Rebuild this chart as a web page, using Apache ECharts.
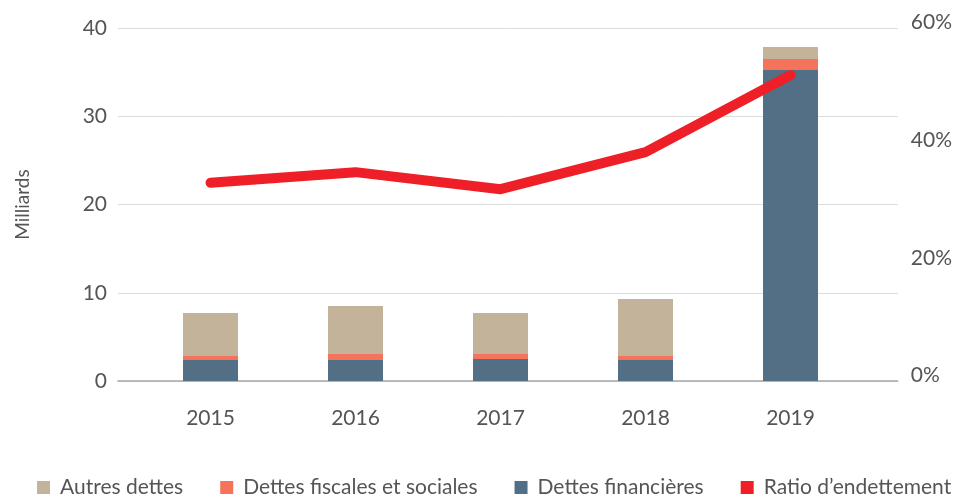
<!DOCTYPE html>
<html>
<head>
<meta charset="utf-8">
<script src="https://cdn.jsdelivr.net/npm/echarts@6/dist/echarts.min.js"></script>
<style>
  html, body { margin: 0; padding: 0; background: #fff; }
  #chart { width: 955px; height: 498px; }
</style>
</head>
<body>
<div id="chart"></div>
<script>
var years = ["2015", "2016", "2017", "2018", "2019"];
// Milliards
var autresDettes = [4.87, 5.44, 4.64, 6.46, 1.36];
var dettesFiscales = [0.45, 0.68, 0.57, 0.45, 1.25];
var dettesFinancieres = [2.38, 2.38, 2.49, 2.38, 35.24];
// ratio d'endettement (part)
var ratio = [0.337, 0.355, 0.326, 0.389, 0.52];

var leftTicks = [0, 40, 10];
var rightTicks = [0, 0.6, 0.2];

var textColor = "#555";
var font = "Lato";

var chart = echarts.init(document.getElementById("chart"));

var option = {
    animation: false,
    textStyle: { fontFamily: font },
    // grille 0 : lignes de fond + axes ; grille 1 : les données
    grid: [
        { left: 118, right: 57, top: 28, bottom: 117 },
        { left: 138, right: 92, top: 28, bottom: 117 }
    ],
    legend: {
        left: 37,
        bottom: 0,
        padding: 0,
        icon: "rect",
        itemWidth: 13,
        itemHeight: 13,
        itemGap: 37,
        textStyle: { color: textColor, fontSize: 21, fontFamily: font, padding: [0, 0, 0, 5] },
        data: ["Autres dettes", "Dettes fiscales et sociales", "Dettes financières", "Ratio d’endettement"]
    },
    xAxis: [{
        gridIndex: 0,
        type: "value",
        min: 0,
        max: 1,
        axisLine: { show: true, onZero: false, lineStyle: { color: "#a6a6a6", width: 1.5 } },
        axisTick: { show: false },
        axisLabel: { show: false },
        splitLine: { show: false }
    }, {
        gridIndex: 1,
        type: "category",
        data: years,
        axisLine: { show: false },
        axisTick: { show: false },
        axisLabel: { color: textColor, fontSize: 21, margin: 27 }
    }],
    yAxis: [{
        gridIndex: 0,
        type: "value",
        position: "left",
        min: leftTicks[0],
        max: leftTicks[1],
        interval: leftTicks[2],
        name: "Milliards",
        nameLocation: "middle",
        nameGap: 86,
        nameTextStyle: { color: textColor, fontSize: 19 },
        axisLine: { show: false },
        axisTick: { show: false },
        axisLabel: { color: textColor, fontSize: 21, margin: 11 },
        splitLine: { lineStyle: { color: "#dcdcdc", width: 1 } }
    }, {
        gridIndex: 0,
        type: "value",
        position: "right",
        min: rightTicks[0],
        max: rightTicks[1],
        interval: rightTicks[2],
        axisLine: { show: false },
        axisTick: { show: false },
        splitLine: { show: false },
        axisLabel: {
            color: textColor,
            fontSize: 21,
            margin: 13,
            verticalAlign: "bottom",
            lineHeight: 11,
            formatter: function (v) { return Math.round(v * 100) + "%"; }
        }
    }, {
        gridIndex: 1,
        type: "value",
        min: leftTicks[0],
        max: leftTicks[1],
        show: false
    }, {
        gridIndex: 1,
        type: "value",
        min: rightTicks[0],
        max: rightTicks[1],
        show: false
    }],
    series: [{
        name: "Dettes financières",
        type: "bar",
        stack: "dettes",
        xAxisIndex: 1,
        yAxisIndex: 2,
        barWidth: 55,
        itemStyle: { color: "#526f85" },
        data: dettesFinancieres
    }, {
        name: "Dettes fiscales et sociales",
        type: "bar",
        stack: "dettes",
        xAxisIndex: 1,
        yAxisIndex: 2,
        barWidth: 55,
        itemStyle: { color: "#f4735a" },
        data: dettesFiscales
    }, {
        name: "Autres dettes",
        type: "bar",
        stack: "dettes",
        xAxisIndex: 1,
        yAxisIndex: 2,
        barWidth: 55,
        itemStyle: { color: "#c4b39b" },
        data: autresDettes
    }, {
        name: "Ratio d’endettement",
        type: "line",
        xAxisIndex: 1,
        yAxisIndex: 3,
        z: 5,
        symbol: "none",
        itemStyle: { color: "#ee1f26" },
        lineStyle: { color: "#ee1f26", width: 10, cap: "round", join: "round" },
        data: ratio
    }]
};

chart.setOption(option);
</script>
</body>
</html>
